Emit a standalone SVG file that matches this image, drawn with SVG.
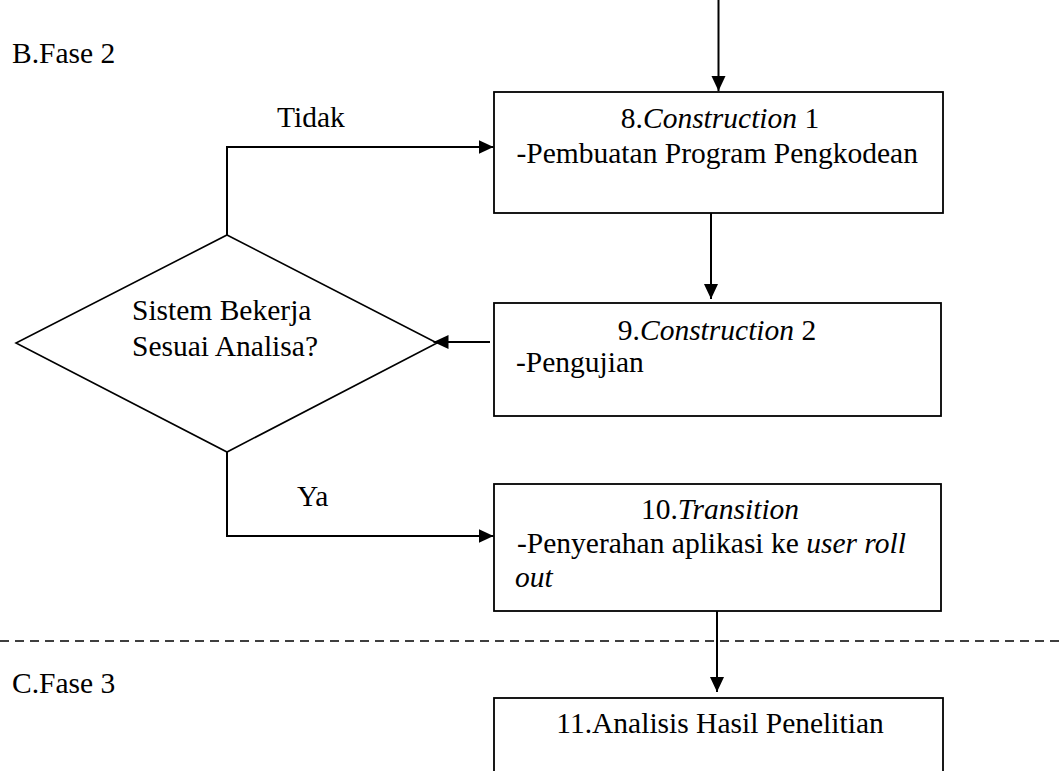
<svg xmlns="http://www.w3.org/2000/svg" width="1063" height="771" viewBox="0 0 1063 771" font-family="'Liberation Serif', 'Times New Roman', Tinos, 'DejaVu Serif', serif" font-size="29.5">
  <style>
    text { fill: #000; }
    .it { font-style: italic; }
    .box { fill: #fff; stroke: #000; stroke-width: 1.8; }
    .dec { fill: #fff; stroke: #000; stroke-width: 1.6; }
    .conn { fill: none; stroke: #000; stroke-width: 2; marker-end: url(#arrow); }
    .phase { fill: none; stroke: #000; stroke-width: 1.7; stroke-dasharray: 9 6; }
  </style>
  <defs>
    <marker id="arrow" markerUnits="userSpaceOnUse" markerWidth="16" markerHeight="16" viewBox="0 0 16 16" refX="15" refY="8" orient="auto">
      <path d="M0,1 L15,8 L0,15 Z" fill="#000"/>
    </marker>
  </defs>

  <rect width="1063" height="771" fill="#fff"/>

  <!-- phase labels and separator -->
  <g id="phase-labels">
    <text x="12" y="63">B.Fase 2</text>
    <text x="12" y="693">C.Fase 3</text>
    <line class="phase" x1="0" y1="641" x2="1063" y2="641"/>
  </g>

  <!-- process steps -->
  <g id="step8">
    <rect class="box" x="494" y="92" width="449" height="121"/>
    <text x="720" y="128" text-anchor="middle">8.<tspan class="it">Construction</tspan> 1</text>
    <text x="516.5" y="162.5">-Pembuatan Program Pengkodean</text>
  </g>

  <g id="step9">
    <rect class="box" x="494" y="303" width="447" height="113"/>
    <text x="717" y="340" text-anchor="middle">9.<tspan class="it">Construction</tspan> 2</text>
    <text x="516" y="372">-Pengujian</text>
  </g>

  <g id="step10">
    <rect class="box" x="494" y="484" width="447" height="127"/>
    <text x="720" y="518.5" text-anchor="middle">10.<tspan class="it">Transition</tspan></text>
    <text x="517" y="553">-Penyerahan aplikasi ke <tspan class="it">user roll</tspan></text>
    <text x="515" y="587" class="it">out</text>
  </g>

  <g id="step11">
    <rect class="box" x="494" y="698" width="449" height="90"/>
    <text x="720" y="733" text-anchor="middle">11.Analisis Hasil Penelitian</text>
  </g>

  <!-- decision -->
  <g id="decision">
    <polygon class="dec" points="227,235 437,343 227,452 16,343"/>
    <text x="132" y="320">Sistem Bekerja</text>
    <text x="132" y="356">Sesuai Analisa?</text>
  </g>

  <!-- connectors -->
  <g id="connectors">
    <line class="conn" x1="718.5" y1="0" x2="718.5" y2="91"/>
    <polyline class="conn" points="227,235 227,147 493.5,147"/>
    <line class="conn" x1="711" y1="213" x2="711" y2="299"/>
    <line class="conn" x1="490" y1="342" x2="433.5" y2="342"/>
    <polyline class="conn" points="227,452 227,536 493.5,536"/>
    <line class="conn" x1="717" y1="611" x2="717" y2="692"/>
    <text x="277" y="127">Tidak</text>
    <text x="297" y="506">Ya</text>
  </g>
</svg>
